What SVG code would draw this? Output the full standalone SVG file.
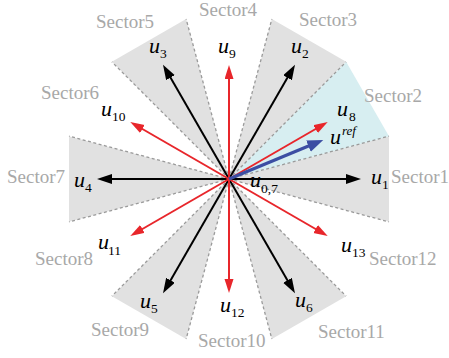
<svg xmlns="http://www.w3.org/2000/svg" width="449" height="358" viewBox="0 0 449 358">
<defs>
<style>
.sec{fill:#e1e1e1;stroke:none}
.cyan{fill:#d7eef1;stroke:none}
.dash{stroke:#9a9a9a;stroke-width:1.3;stroke-dasharray:3,2.5;fill:none}
.blk{stroke:#000;stroke-width:2;fill:none}
.red{stroke:#e8262b;stroke-width:2;fill:none}
.blu{stroke:#3b4ea3;stroke-width:3.2;fill:none}
.slab{font-family:"Liberation Serif","Times New Roman","DejaVu Serif",serif;font-size:19px;fill:#a8a8a8}
.u{font-family:"Liberation Serif","Times New Roman","DejaVu Serif",serif;font-size:22px;font-style:italic;fill:#000}
.s{font-family:"Liberation Serif","Times New Roman","DejaVu Serif",serif;font-size:13.5px;fill:#000}
.si{font-family:"Liberation Serif","Times New Roman","DejaVu Serif",serif;font-size:13px;font-style:italic;fill:#000}
</style>
<marker id="ab" markerUnits="userSpaceOnUse" markerWidth="16" markerHeight="11" refX="5" refY="5" orient="auto"><path d="M0,0 L15,5 L0,10 z" fill="#000"/></marker>
<marker id="ar" markerUnits="userSpaceOnUse" markerWidth="15" markerHeight="10" refX="4" refY="4.5" orient="auto"><path d="M0,0 L14,4.5 L0,9 z" fill="#e8262b"/></marker>
<marker id="au" markerUnits="userSpaceOnUse" markerWidth="17" markerHeight="13" refX="4" refY="6" orient="auto"><path d="M0,0 L16,6 L0,12 z" fill="#3b4ea3"/></marker>
</defs>

<g id="sectors">
<polygon id="sector1" class="sec" points="229,179 389,221.87 389,136.13"/>
<polygon id="sector2" class="cyan" points="229,179 389,136.13 346.13,61.87"/>
<polygon id="sector3" class="sec" points="229,179 346.13,61.87 271.87,19"/>
<polygon id="sector5" class="sec" points="229,179 186.13,19 111.87,61.87"/>
<polygon id="sector7" class="sec" points="229,179 69,136.13 69,221.87"/>
<polygon id="sector9" class="sec" points="229,179 111.87,296.13 186.13,339"/>
<polygon id="sector11" class="sec" points="229,179 271.87,339 346.13,296.13"/>
</g>

<g id="boundaries">
<path class="dash" d="M229,179 L389,136.13 M229,179 L346.13,61.87 M229,179 L271.87,19 M229,179 L186.13,19 M229,179 L111.87,61.87 M229,179 L69,136.13 M229,179 L69,221.87 M229,179 L111.87,296.13 M229,179 L186.13,339 M229,179 L271.87,339 M229,179 L346.13,296.13 M229,179 L389,221.87"/>
</g>

<g id="connectors">
<line class="blk" x1="229" y1="179" x2="351" y2="179" marker-end="url(#ab)"/>
<line class="blk" x1="229" y1="179" x2="290" y2="73.34" marker-end="url(#ab)"/>
<line class="blk" x1="229" y1="179" x2="168" y2="73.34" marker-end="url(#ab)"/>
<line class="blk" x1="229" y1="179" x2="107" y2="179" marker-end="url(#ab)"/>
<line class="blk" x1="229" y1="179" x2="168" y2="284.66" marker-end="url(#ab)"/>
<line class="blk" x1="229" y1="179" x2="290" y2="284.66" marker-end="url(#ab)"/>
<line class="red" x1="229" y1="179" x2="319.07" y2="127" marker-end="url(#ar)"/>
<line class="red" x1="229" y1="179" x2="229" y2="75" marker-end="url(#ar)"/>
<line class="red" x1="229" y1="179" x2="138.93" y2="127" marker-end="url(#ar)"/>
<line class="red" x1="229" y1="179" x2="138.93" y2="231" marker-end="url(#ar)"/>
<line class="red" x1="229" y1="179" x2="229" y2="283" marker-end="url(#ar)"/>
<line class="red" x1="229" y1="179" x2="319.07" y2="231" marker-end="url(#ar)"/>
<line class="blu" x1="229" y1="179" x2="312.15" y2="144.56" marker-end="url(#au)"/>
</g>

<g id="sector-labels">
<text class="slab" x="391" y="183">Sector1</text>
<text class="slab" x="364" y="102">Sector2</text>
<text class="slab" x="299" y="26">Sector3</text>
<text class="slab" x="199" y="16">Sector4</text>
<text class="slab" x="96" y="28">Sector5</text>
<text class="slab" x="41" y="99">Sector6</text>
<text class="slab" x="7" y="183">Sector7</text>
<text class="slab" x="35" y="265">Sector8</text>
<text class="slab" x="91" y="336">Sector9</text>
<text class="slab" x="198" y="347">Sector10</text>
<text class="slab" x="318" y="338">Sector11</text>
<text class="slab" x="369" y="265">Sector12</text>
</g>

<g id="vector-labels">
<g id="u1"><text class="u" x="371" y="184">u</text><text class="s" x="382" y="189">1</text></g>
<g id="u2"><text class="u" x="291" y="53">u</text><text class="s" x="302" y="58">2</text></g>
<g id="u3"><text class="u" x="149" y="53">u</text><text class="s" x="160" y="58">3</text></g>
<g id="u4"><text class="u" x="74" y="187">u</text><text class="s" x="85" y="192">4</text></g>
<g id="u5"><text class="u" x="140" y="308">u</text><text class="s" x="151" y="313">5</text></g>
<g id="u6"><text class="u" x="295" y="307">u</text><text class="s" x="306" y="312">6</text></g>
<g id="u8"><text class="u" x="337" y="116">u</text><text class="s" x="349" y="121">8</text></g>
<g id="u9"><text class="u" x="218" y="53">u</text><text class="s" x="229" y="58">9</text></g>
<g id="u10"><text class="u" x="101" y="116">u</text><text class="s" x="112" y="121">10</text></g>
<g id="u11"><text class="u" x="98" y="249">u</text><text class="s" x="108" y="255">11</text></g>
<g id="u12"><text class="u" x="220" y="312">u</text><text class="s" x="231" y="317">12</text></g>
<g id="u13"><text class="u" x="341" y="252">u</text><text class="s" x="352" y="257">13</text></g>
<g id="u07"><text class="u" x="250" y="187">u</text><text class="s" x="261" y="193">0,7</text></g>
<g id="uref"><text class="u" x="330" y="144">u</text><text class="si" x="342" y="135">ref</text></g>
</g>
</svg>
